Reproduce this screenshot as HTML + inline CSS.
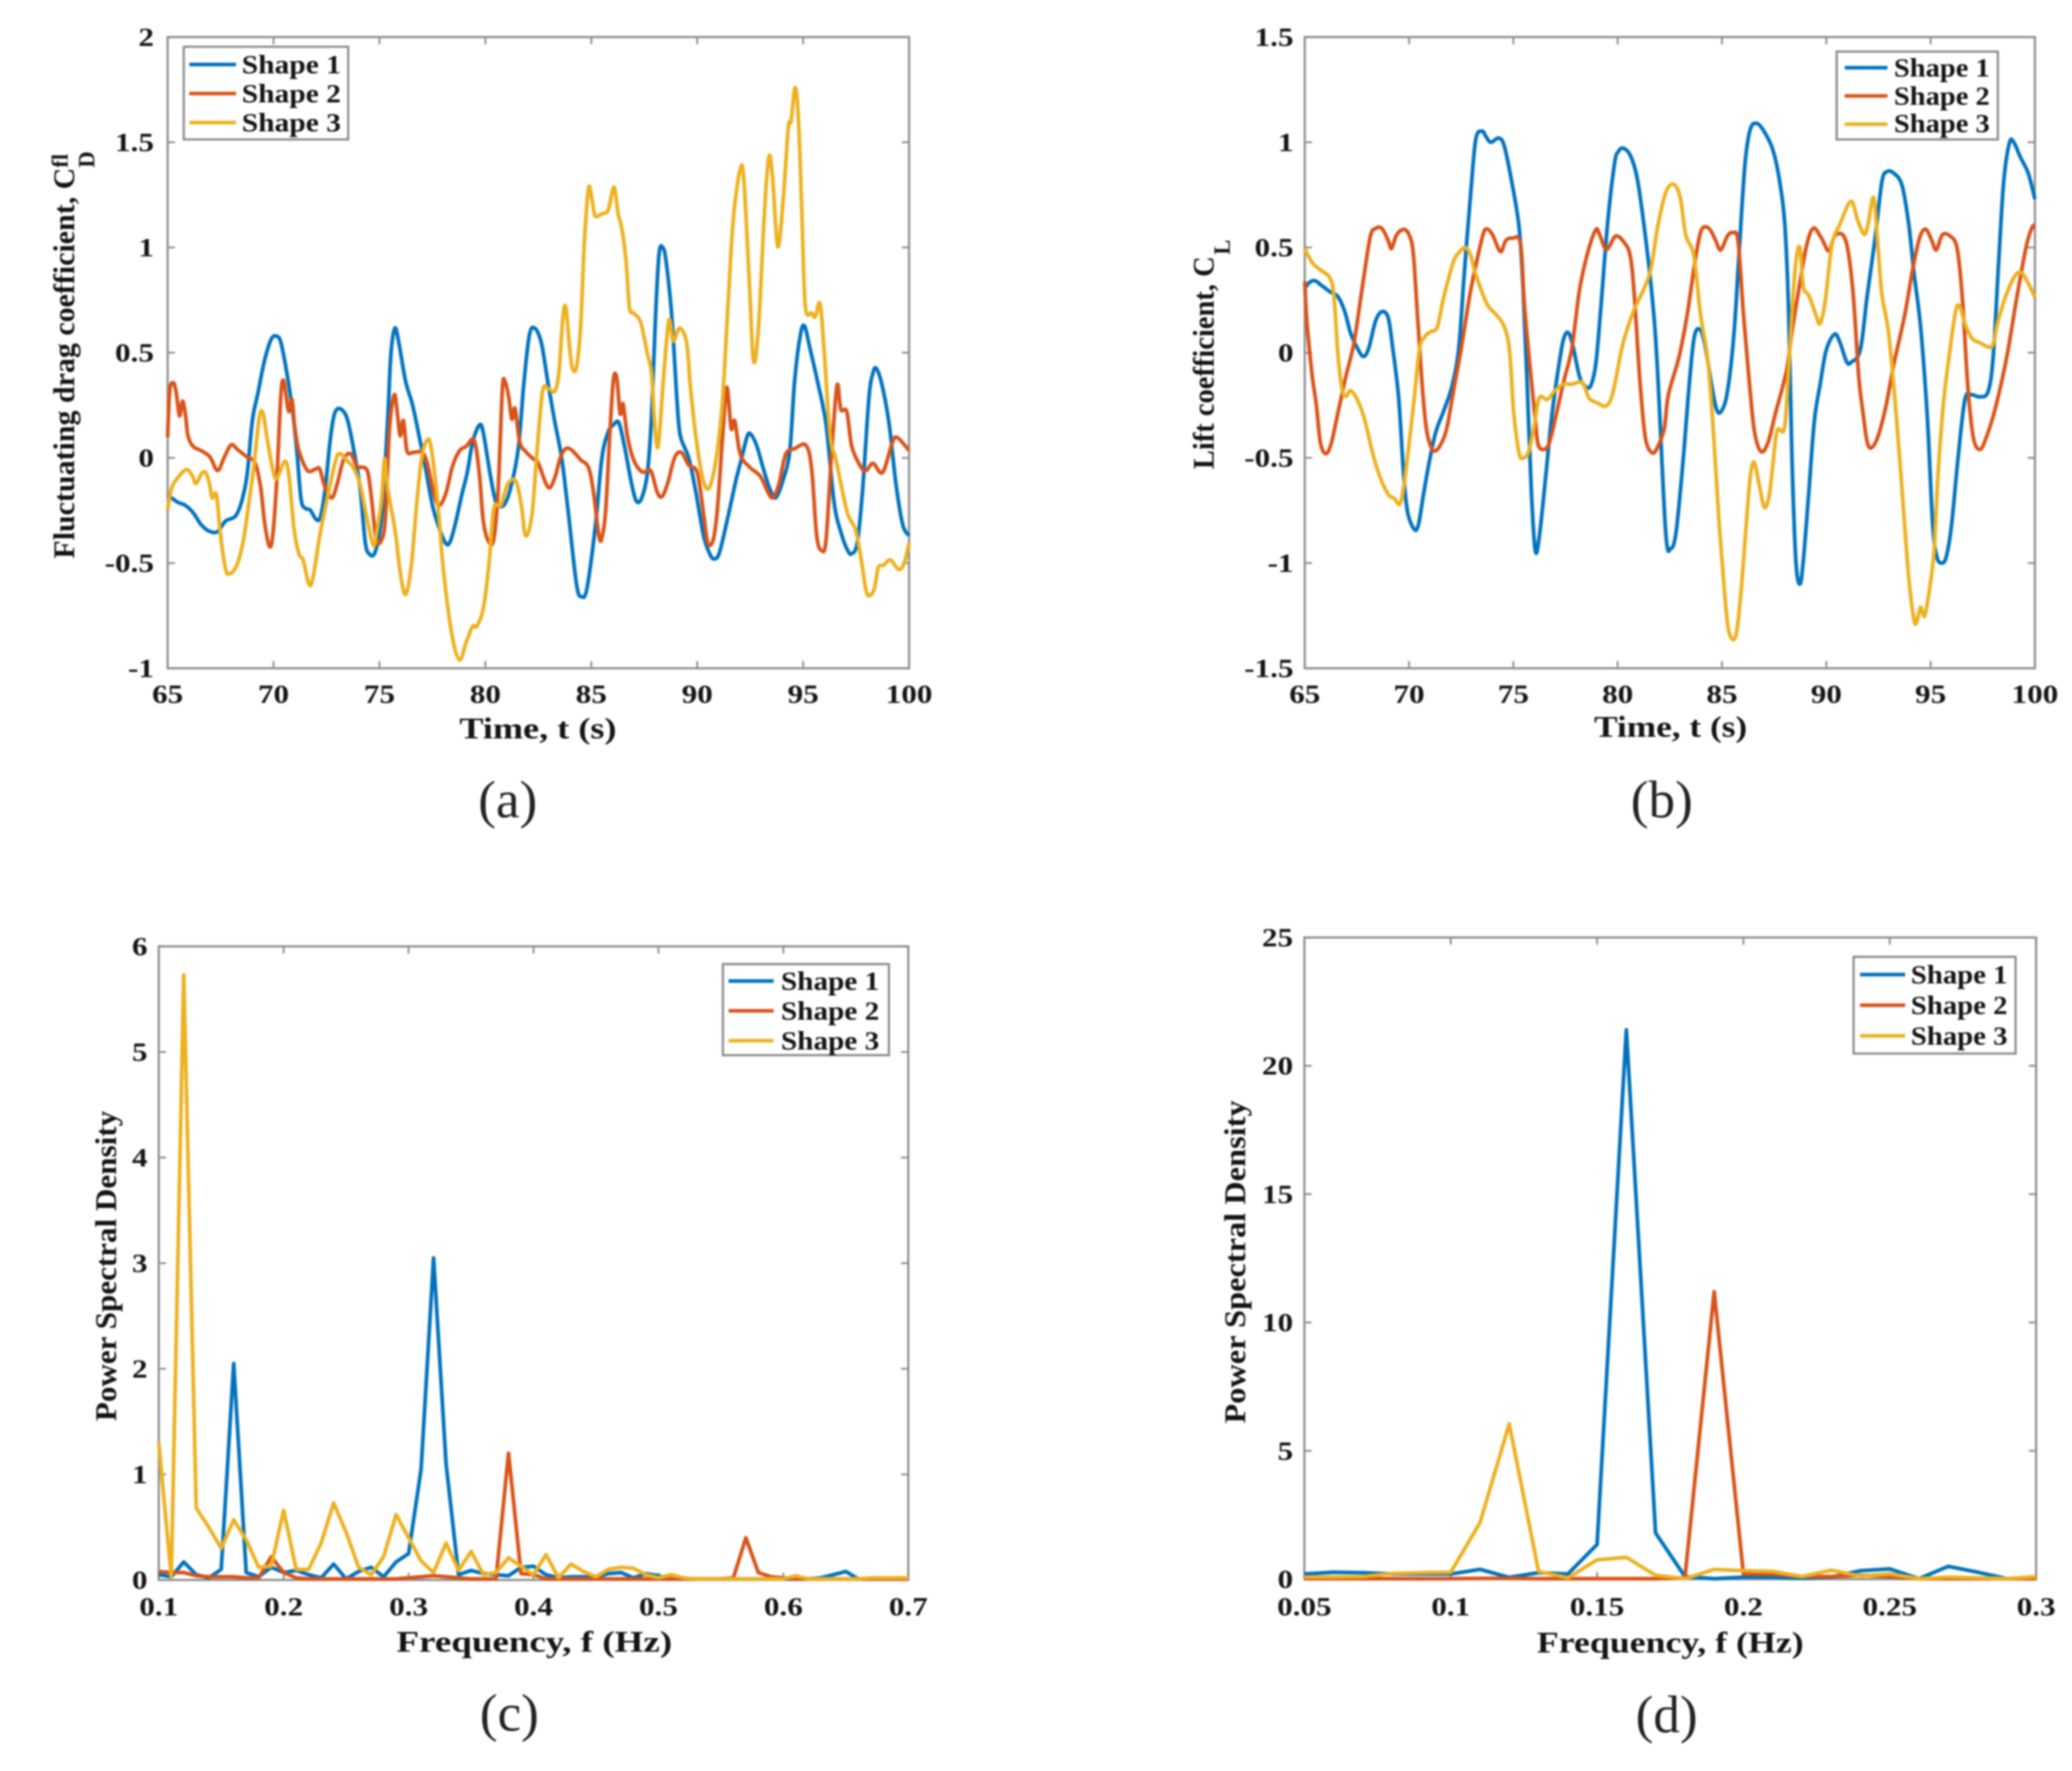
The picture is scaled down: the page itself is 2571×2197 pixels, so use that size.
<!DOCTYPE html>
<html lang="en">
<head>
<meta charset="utf-8">
<title>Shape comparison charts</title>
<style>
html,body{margin:0;padding:0;background:#fff;}
svg{display:block;filter:blur(1px);}
text{font-family:"Liberation Serif",serif;font-weight:bold;fill:#141414;}
.cap{font-weight:normal;font-size:66px;fill:#222;text-anchor:middle;}
.leg{font-size:33px;}
.ttl{font-size:37px;}
.frame{fill:none;stroke:#8a8a8a;stroke-width:2.6;}
.legbox{fill:#fff;stroke:#858585;stroke-width:2.6;}
.l1{stroke:#0072BD;stroke-width:4.6;fill:none;}
.l2{stroke:#D95319;stroke-width:4.6;fill:none;}
.l3{stroke:#EDB120;stroke-width:4.6;fill:none;}
</style>
</head>
<body>
<svg id="fig" width="2571" height="2197" viewBox="0 0 2571 2197" xmlns="http://www.w3.org/2000/svg">
<rect width="2571" height="2197" fill="#fff"/>

<g id="panel-a">
  <rect class="frame" x="208" y="46" width="920" height="783"/>
  <g id="marks-a"></g>
  <g>
    <rect class="legbox" x="228" y="58" width="204" height="115"/>
    <line class="l1" x1="235" x2="293" y1="80" y2="80"/>
    <text class="leg" x="300" y="91" textLength="123" lengthAdjust="spacingAndGlyphs">Shape 1</text>
    <line class="l2" x1="235" x2="293" y1="116" y2="116"/>
    <text class="leg" x="300" y="127" textLength="123" lengthAdjust="spacingAndGlyphs">Shape 2</text>
    <line class="l3" x1="235" x2="293" y1="152" y2="152"/>
    <text class="leg" x="300" y="163" textLength="123" lengthAdjust="spacingAndGlyphs">Shape 3</text>
  </g>
  <text class="ttl" x="570" y="916" textLength="195" lengthAdjust="spacingAndGlyphs">Time, t (s)</text>
  <text class="ttl" transform="translate(92,693) rotate(-90)" textLength="485" lengthAdjust="spacingAndGlyphs">Fluctuating drag coefficient, C</text>
  <text transform="translate(117,208) rotate(-90)" font-size="28">D</text>
  <text transform="translate(84,208) rotate(-90)" font-size="28">fl</text>
  <text class="cap" x="630" y="1014">(a)</text>
</g>

<g id="panel-b">
  <rect class="frame" x="1619" y="46" width="906" height="783"/>
  <g id="marks-b"></g>
  <g>
    <rect class="legbox" x="2279" y="64" width="200" height="109"/>
    <line class="l1" x1="2289" x2="2342" y1="84" y2="84"/>
    <text class="leg" x="2350" y="95" textLength="119" lengthAdjust="spacingAndGlyphs">Shape 1</text>
    <line class="l2" x1="2289" x2="2342" y1="119" y2="119"/>
    <text class="leg" x="2350" y="130" textLength="119" lengthAdjust="spacingAndGlyphs">Shape 2</text>
    <line class="l3" x1="2289" x2="2342" y1="154" y2="154"/>
    <text class="leg" x="2350" y="164" textLength="119" lengthAdjust="spacingAndGlyphs">Shape 3</text>
  </g>
  <text class="ttl" x="1978" y="914" textLength="190" lengthAdjust="spacingAndGlyphs">Time, t (s)</text>
  <text class="ttl" transform="translate(1506,582) rotate(-90)" textLength="264" lengthAdjust="spacingAndGlyphs">Lift coefficient, C</text>
  <text transform="translate(1526,316) rotate(-90)" font-size="28">L</text>
  <text class="cap" x="2062" y="1014">(b)</text>
</g>

<g id="panel-c">
  <rect class="frame" x="197" y="1174" width="930" height="786"/>
  <g id="marks-c"></g>
  <g>
    <rect class="legbox" x="897" y="1196" width="206" height="113"/>
    <line class="l1" x1="904" x2="960" y1="1217" y2="1217"/>
    <text class="leg" x="969" y="1228" textLength="122" lengthAdjust="spacingAndGlyphs">Shape 1</text>
    <line class="l2" x1="904" x2="960" y1="1254" y2="1254"/>
    <text class="leg" x="969" y="1265" textLength="122" lengthAdjust="spacingAndGlyphs">Shape 2</text>
    <line class="l3" x1="904" x2="960" y1="1291" y2="1291"/>
    <text class="leg" x="969" y="1302" textLength="122" lengthAdjust="spacingAndGlyphs">Shape 3</text>
  </g>
  <text class="ttl" x="492" y="2049" textLength="342" lengthAdjust="spacingAndGlyphs">Frequency, f (Hz)</text>
  <text class="ttl" transform="translate(144,1763) rotate(-90)" textLength="385" lengthAdjust="spacingAndGlyphs">Power Spectral Density</text>
  <text class="cap" x="632" y="2147">(c)</text>
</g>

<g id="panel-d">
  <rect class="frame" x="1618.5" y="1163" width="908" height="796"/>
  <g id="marks-d"></g>
  <g>
    <rect class="legbox" x="2300" y="1187" width="201" height="120"/>
    <line class="l1" x1="2308" x2="2364" y1="1209" y2="1209"/>
    <text class="leg" x="2371" y="1220" textLength="120" lengthAdjust="spacingAndGlyphs">Shape 1</text>
    <line class="l2" x1="2308" x2="2364" y1="1247" y2="1247"/>
    <text class="leg" x="2371" y="1258" textLength="120" lengthAdjust="spacingAndGlyphs">Shape 2</text>
    <line class="l3" x1="2308" x2="2364" y1="1285" y2="1285"/>
    <text class="leg" x="2371" y="1296" textLength="120" lengthAdjust="spacingAndGlyphs">Shape 3</text>
  </g>
  <text class="ttl" x="1907" y="2050" textLength="331" lengthAdjust="spacingAndGlyphs">Frequency, f (Hz)</text>
  <text class="ttl" transform="translate(1545,1766) rotate(-90)" textLength="401" lengthAdjust="spacingAndGlyphs">Power Spectral Density</text>
  <text class="cap" x="2068" y="2149">(d)</text>
</g>
</svg>

<script>
/* Panel (a): fluctuating drag coefficient */
var timeTicksA = ['65','70','75','80','85','90','95','100'];
var dragTicks = ['-1','-0.5','0','0.5','1','1.5','2'];
var dragTimeShape1 = [65,65.46,65.84,66.2,66.6,67,67.36,67.74,68.2,68.5,68.75,69,69.26,69.58,69.9,70.15,70.34,70.6,70.9,71.1,71.3,71.5,71.73,71.99,72.2,72.43,72.68,72.87,73.1,73.4,73.57,73.82,74.08,74.33,74.52,74.77,75.03,75.2,75.4,75.54,75.73,75.92,76.23,76.55,76.87,77.18,77.5,77.82,78.13,78.33,78.58,78.9,79.15,79.4,79.72,79.9,80.23,80.5,80.86,81.2,81.56,81.8,82.07,82.32,82.64,82.96,83.27,83.6,83.9,84.3,84.55,84.8,85.2,85.5,85.8,86.07,86.3,86.57,86.9,87.14,87.4,87.65,87.84,88.03,88.2,88.37,88.53,88.8,89.04,89.2,89.6,89.93,90.3,90.6,90.8,91.05,91.45,91.83,92.1,92.34,92.5,92.8,93.1,93.4,93.7,94.05,94.37,94.6,94.88,95.07,95.3,95.7,96.08,96.46,96.78,97.1,97.3,97.55,97.8,98.1,98.3,98.47,98.75,99.06,99.38,99.7,100];
var dragValueShape1 = [-0.176,-0.21,-0.226,-0.26,-0.32,-0.35,-0.35,-0.3,-0.277,-0.205,-0.08,0.177,0.307,0.465,0.566,0.578,0.55,0.42,0.22,0.033,-0.197,-0.24,-0.248,-0.29,-0.284,-0.154,0.09,0.206,0.235,0.206,0.148,0.02,-0.14,-0.4,-0.457,-0.454,-0.34,-0.154,0.206,0.494,0.617,0.545,0.365,0.256,0.105,-0.053,-0.226,-0.334,-0.406,-0.4,-0.313,-0.169,-0.068,0.076,0.156,0.12,-0.08,-0.21,-0.226,-0.14,0.05,0.336,0.58,0.617,0.547,0.353,0.176,0,-0.247,-0.6,-0.66,-0.617,-0.317,0,0.123,0.159,0.167,0.053,-0.123,-0.208,-0.185,-0.07,0.194,0.67,0.97,1,0.935,0.67,0.28,0.106,0,-0.16,-0.37,-0.458,-0.48,-0.45,-0.28,-0.106,0,0.097,0.115,0.06,-0.044,-0.14,-0.19,-0.106,0.035,0.37,0.59,0.626,0.53,0.353,0.16,-0.21,-0.353,-0.44,-0.455,-0.405,-0.16,0.28,0.405,0.423,0.335,0.16,-0.123,-0.317,-0.37];
var dragTimeShape2 = [65,65.1,65.27,65.4,65.56,65.7,65.84,65.96,66.2,66.6,67,67.36,67.68,68,68.3,68.75,69.13,69.39,69.58,69.8,69.96,70.15,70.34,70.46,70.6,70.72,70.87,71,71.2,71.6,71.99,72.18,72.43,72.75,73,73.3,73.63,73.95,74.4,74.6,74.84,75.1,75.28,75.47,75.7,75.85,75.98,76.13,76.3,76.6,77,77.25,77.57,77.82,78.13,78.45,78.77,79.1,79.47,79.72,79.9,80.16,80.4,80.6,80.8,80.92,81.1,81.25,81.4,81.62,81.94,82.32,82.5,82.96,83.27,83.53,83.8,84.1,84.5,84.86,85.1,85.36,85.5,85.68,85.87,86.04,86.2,86.36,86.5,86.7,87,87.4,87.8,88.1,88.33,88.6,88.93,89.25,89.6,90,90.3,90.5,90.75,90.95,91.2,91.4,91.6,91.77,92.03,92.47,92.98,93.4,93.6,93.86,94.18,94.6,95.13,95.4,95.64,95.87,96.08,96.34,96.6,96.78,97.06,97.3,97.73,97.98,98.3,98.75,99.2,99.44,100];
var dragValueShape2 = [0.098,0.32,0.357,0.314,0.2,0.27,0.206,0.105,0.055,0.033,0.004,-0.06,0.004,0.062,0.04,0.004,-0.024,-0.14,-0.31,-0.42,-0.37,-0.11,0.29,0.37,0.29,0.22,0.278,0.148,0.033,-0.06,-0.053,-0.053,-0.14,-0.19,-0.125,-0.01,0.02,-0.04,-0.056,-0.17,-0.385,-0.39,-0.284,0.134,0.3,0.206,0.105,0.177,0.033,0.026,0.026,-0.024,-0.17,-0.226,-0.17,-0.04,0.033,0.055,0.084,-0.08,-0.3,-0.4,-0.385,-0.154,0.32,0.365,0.29,0.184,0.235,0.076,0.026,-0.01,-0.026,-0.14,-0.097,0,0.044,0.035,-0.01,-0.044,-0.16,-0.37,-0.38,-0.247,0.106,0.37,0.38,0.21,0.256,0.106,-0.01,-0.067,-0.06,-0.16,-0.185,-0.123,0,0.026,-0.035,-0.07,-0.265,-0.405,-0.39,-0.247,0.106,0.335,0.14,0.176,0.018,-0.044,-0.088,-0.176,-0.185,-0.123,0.018,0.044,0.06,-0.053,-0.37,-0.44,-0.39,0.018,0.344,0.23,0.22,0.053,-0.044,-0.06,-0.026,-0.07,0.07,0.097,0.035];
var dragTimeShape3 = [65,65.2,65.58,65.9,66.15,66.34,66.6,66.8,66.98,67.1,67.3,67.5,67.74,67.93,68.25,68.56,68.82,69.07,69.32,69.5,69.7,70.02,70.2,70.53,70.72,70.97,71.2,71.4,71.67,71.86,72.18,72.56,72.94,73.13,73.44,73.76,74.08,74.4,74.7,74.84,75.1,75.24,75.4,75.73,75.98,76.23,76.5,76.75,77,77.25,77.44,77.76,78,78.4,78.77,79.1,79.4,79.6,79.9,80.16,80.4,80.73,81.05,81.43,81.7,81.9,82.2,82.44,82.7,82.96,83.27,83.47,83.66,83.8,83.97,84.1,84.3,84.5,84.67,84.87,85.05,85.18,85.5,85.8,86.07,86.26,86.45,86.64,86.8,87,87.33,87.65,87.84,87.97,88.15,88.4,88.66,88.87,89.17,89.5,89.68,89.93,90.2,90.44,90.67,90.95,91.2,91.45,91.7,92.02,92.2,92.47,92.66,92.9,93.17,93.38,93.55,93.8,94.05,94.3,94.43,94.62,94.78,94.94,95.1,95.4,95.57,95.8,96,96.27,96.53,96.78,97.1,97.48,97.73,97.98,98.17,98.37,98.55,98.8,99.12,99.5,99.76,100];
var dragValueShape3 = [-0.248,-0.14,-0.082,-0.056,-0.082,-0.122,-0.075,-0.07,-0.125,-0.19,-0.176,-0.37,-0.53,-0.55,-0.514,-0.4,-0.226,-0.04,0.19,0.213,0.09,-0.082,-0.09,-0.017,-0.08,-0.34,-0.457,-0.486,-0.6,-0.57,-0.37,-0.18,-0.01,0.02,-0.01,-0.046,-0.125,-0.284,-0.414,-0.37,-0.197,-0.003,-0.154,-0.34,-0.543,-0.65,-0.514,-0.226,0.004,0.084,0.048,-0.226,-0.514,-0.83,-0.96,-0.875,-0.8,-0.8,-0.716,-0.514,-0.24,-0.226,-0.125,-0.11,-0.226,-0.37,-0.27,0.035,0.317,0.33,0.317,0.405,0.67,0.714,0.53,0.427,0.432,0.635,1.02,1.284,1.217,1.15,1.16,1.178,1.287,1.164,1.085,0.935,0.714,0.688,0.644,0.494,0.405,0.194,0.053,0.37,0.653,0.555,0.617,0.547,0.335,0.106,-0.07,-0.146,-0.115,0.035,0.282,0.723,1.13,1.367,1.323,0.81,0.458,0.635,1.164,1.43,1.34,1.005,1.217,1.57,1.6,1.76,1.605,1.164,0.723,0.688,0.67,0.732,0.494,0.106,0,-0.123,-0.265,-0.344,-0.476,-0.635,-0.653,-0.617,-0.52,-0.51,-0.485,-0.53,-0.503,-0.405];

/* Panel (b): lift coefficient */
var timeTicksB = ['65','70','75','80','85','90','95','100'];
var liftTicks = ['-1.5','-1','-0.5','0','0.5','1','1.5'];
var liftTimeShape1 = [65,65.23,65.49,65.8,66.2,66.58,66.9,67.2,67.5,67.8,68.06,68.39,68.7,69,69.2,69.5,69.74,69.93,70.25,70.45,70.7,70.96,71.28,71.67,72.06,72.38,72.64,72.96,73.2,73.5,73.67,73.92,74.3,74.57,74.95,75.28,75.47,75.66,75.86,76.05,76.24,76.56,76.82,77.14,77.4,77.63,77.85,78.17,78.43,78.69,78.95,79.2,79.52,79.85,80.04,80.27,80.62,80.94,81.26,81.65,81.9,82.3,82.55,82.8,83.13,83.4,83.65,83.9,84.16,84.5,84.74,84.97,85.26,85.58,85.84,86.1,86.35,86.67,87.06,87.45,87.77,88.02,88.2,88.35,88.54,88.73,88.9,89.17,89.43,89.7,90,90.4,90.66,90.98,91.2,91.63,91.95,92.34,92.66,92.9,93.24,93.63,93.95,94.2,94.53,94.85,95.1,95.3,95.53,95.75,96,96.33,96.65,96.97,97.36,97.75,98,98.26,98.5,98.77,98.97,99.3,99.68,100];
var liftValueShape1 = [0.305,0.334,0.342,0.32,0.29,0.268,0.2,0.092,0.026,-0.018,0.019,0.15,0.195,0.166,0.034,-0.215,-0.58,-0.758,-0.84,-0.817,-0.67,-0.523,-0.377,-0.274,-0.157,0.019,0.37,0.767,1.016,1.053,1.03,1,1.02,0.98,0.796,0.59,0.298,-0.142,-0.655,-0.94,-0.875,-0.58,-0.318,-0.084,0.063,0.095,0.034,-0.113,-0.157,-0.16,-0.054,0.224,0.62,0.9,0.957,0.972,0.935,0.826,0.606,0.268,-0.07,-0.85,-0.93,-0.85,-0.52,-0.186,0.063,0.113,0.047,-0.153,-0.27,-0.278,-0.186,0.097,0.51,0.895,1.06,1.09,1.045,0.96,0.81,0.596,0.18,-0.486,-0.985,-1.1,-0.985,-0.65,-0.32,-0.153,0.013,0.088,0.047,-0.045,-0.045,0.013,0.263,0.546,0.81,0.86,0.853,0.795,0.612,0.38,0.113,-0.32,-0.82,-0.97,-1,-0.97,-0.82,-0.486,-0.22,-0.2,-0.21,-0.186,-0.02,0.43,0.81,0.995,1.003,0.93,0.853,0.73];
var liftTimeShape2 = [65,65.1,65.36,65.55,65.75,66,66.26,66.58,66.97,67.36,67.74,68.13,68.39,68.7,69,69.16,69.4,69.74,70,70.2,70.4,70.64,70.83,71.03,71.2,71.48,71.8,72.12,72.5,72.9,73.2,73.54,73.73,74,74.38,74.63,74.95,75.34,75.53,75.8,76.05,76.18,76.43,76.7,77,77.4,77.8,78.17,78.56,78.95,79.14,79.46,79.9,80.3,80.6,80.8,81.07,81.33,81.65,81.9,82.23,82.43,82.94,83.33,83.7,84,84.36,84.68,84.93,85.26,85.5,85.77,86.03,86.29,86.55,86.87,87.2,87.57,88.09,88.35,88.73,89.06,89.38,89.76,90.12,90.4,90.79,91.05,91.3,91.56,91.76,91.95,92.15,92.47,92.86,93.24,93.76,94.14,94.47,94.76,95.04,95.27,95.56,95.94,96.27,96.52,96.78,97.04,97.36,97.68,98.13,98.65,99.16,99.6,99.87,100];
var liftValueShape2 = [0.34,0.15,-0.113,-0.245,-0.428,-0.48,-0.435,-0.29,-0.113,0.048,0.298,0.547,0.59,0.59,0.532,0.495,0.56,0.586,0.56,0.474,0.18,-0.17,-0.362,-0.443,-0.468,-0.443,-0.362,-0.186,0.019,0.268,0.415,0.56,0.588,0.56,0.48,0.532,0.544,0.518,0.224,-0.07,-0.318,-0.435,-0.46,-0.435,-0.318,-0.142,0.019,0.298,0.474,0.584,0.56,0.49,0.554,0.525,0.46,0.268,-0.142,-0.406,-0.476,-0.45,-0.362,-0.2,-0.02,0.18,0.43,0.58,0.592,0.537,0.488,0.554,0.57,0.53,0.18,-0.12,-0.37,-0.47,-0.428,-0.286,-0.087,0.097,0.33,0.512,0.592,0.546,0.483,0.554,0.56,0.48,0.263,-0.12,-0.286,-0.42,-0.453,-0.4,-0.253,-0.053,0.18,0.396,0.546,0.587,0.537,0.488,0.56,0.554,0.496,0.263,-0.153,-0.4,-0.46,-0.4,-0.253,-0.02,0.28,0.512,0.596,0.604];
var liftTimeShape3 = [65,65.17,65.42,65.8,66.2,66.4,66.58,66.78,66.97,67.2,67.55,67.87,68.26,68.64,69.03,69.29,69.55,69.74,70,70.25,70.5,70.77,71.03,71.35,71.67,72.12,72.38,72.7,72.96,73.2,73.73,74.18,74.57,74.82,75.02,75.28,75.47,75.73,76,76.24,76.63,77,77.4,77.8,78.3,78.62,79,79.46,79.78,80.23,80.75,81.52,81.9,82.3,82.68,83,83.26,83.65,83.97,84.3,84.55,84.87,85.13,85.33,85.65,85.9,86.16,86.36,86.55,86.8,87.03,87.25,87.45,87.64,87.96,88.1,88.35,88.54,88.73,88.9,89.17,89.5,89.7,89.95,90.27,90.66,91.18,91.5,91.82,92,92.27,92.47,92.66,92.98,93.3,93.63,93.95,94.2,94.33,94.52,94.72,94.98,95.17,95.36,95.62,95.88,96.2,96.4,96.65,96.97,97.36,97.94,98.2,98.58,99.03,99.35,99.68,100];
var liftValueShape3 = [0.496,0.46,0.42,0.39,0.356,0.268,0.004,-0.17,-0.208,-0.18,-0.23,-0.318,-0.48,-0.6,-0.677,-0.692,-0.72,-0.64,-0.435,-0.215,0.019,0.078,0.1,0.122,0.268,0.43,0.474,0.5,0.46,0.37,0.232,0.18,0.122,0.004,-0.29,-0.48,-0.5,-0.47,-0.348,-0.215,-0.222,-0.18,-0.15,-0.15,-0.142,-0.215,-0.238,-0.252,-0.186,0.034,0.195,0.37,0.59,0.76,0.8,0.737,0.56,0.46,0.18,-0.02,-0.32,-0.82,-1.15,-1.326,-1.35,-1.15,-0.82,-0.586,-0.522,-0.636,-0.735,-0.686,-0.52,-0.37,-0.37,-0.236,0.18,0.43,0.5,0.313,0.27,0.18,0.138,0.246,0.512,0.612,0.72,0.63,0.562,0.612,0.737,0.512,0.28,0.097,-0.236,-0.652,-1.068,-1.268,-1.28,-1.21,-1.25,-1.1,-0.935,-0.57,-0.236,-0.02,0.196,0.22,0.138,0.07,0.047,0.03,0.138,0.263,0.363,0.38,0.33,0.263];

/* Panel (c): power spectral density, f = 0.10 ... 0.70 */
var freqTicksC = ['0.1','0.2','0.3','0.4','0.5','0.6','0.7'];
var psdTicksC = ['0','1','2','3','4','5','6'];
var freqC = [0.1,0.11,0.12,0.13,0.14,0.15,0.16,0.17,0.18,0.19,0.2,0.21,0.22,0.23,0.24,0.25,0.26,0.27,0.28,0.29,0.3,0.31,0.32,0.33,0.34,0.35,0.36,0.37,0.38,0.39,0.4,0.41,0.42,0.43,0.44,0.45,0.46,0.47,0.48,0.49,0.5,0.51,0.52,0.53,0.54,0.55,0.56,0.57,0.58,0.59,0.6,0.61,0.62,0.63,0.64,0.65,0.66,0.67,0.68,0.69,0.7];
var psdCShape1 = [0.05,0.03,0.17,0.05,0.02,0.1,2.05,0.07,0.03,0.12,0.07,0.09,0.05,0.02,0.15,0.01,0.08,0.12,0.03,0.17,0.25,1.05,3.05,1.1,0.05,0.09,0.06,0.05,0.04,0.12,0.13,0.05,0.02,0.03,0.03,0.03,0.06,0.07,0.02,0.06,0.04,0.01,0.01,0.01,0.01,0.01,0.01,0.01,0.01,0.01,0.01,0.01,0.01,0.02,0.05,0.08,0.01,0.01,0.01,0.01,0.01];
var psdCShape2 = [0.08,0.07,0.07,0.04,0.03,0.03,0.03,0.02,0.02,0.22,0.07,0.02,0.01,0.01,0.01,0.01,0.01,0.01,0.01,0.01,0.02,0.03,0.04,0.03,0.02,0.01,0.01,0.01,1.2,0.06,0.05,0.01,0.01,0.01,0.01,0.01,0.01,0.01,0.01,0.01,0.01,0.01,0.01,0.01,0.01,0.01,0.02,0.4,0.07,0.03,0.02,0.01,0.01,0.01,0.01,0.01,0.01,0.01,0.01,0.01,0.01];
var psdCShape3 = [1.3,0.03,5.73,0.68,0.5,0.3,0.57,0.38,0.12,0.13,0.66,0.1,0.1,0.35,0.73,0.45,0.12,0.05,0.22,0.62,0.4,0.18,0.07,0.35,0.09,0.27,0.05,0.07,0.21,0.13,0.05,0.24,0.02,0.15,0.08,0.03,0.1,0.12,0.11,0.05,0.02,0.05,0.02,0.01,0.01,0.01,0.01,0.01,0.01,0.01,0.01,0.04,0.01,0.01,0.01,0.01,0.01,0.02,0.02,0.02,0.02];

/* Panel (d): power spectral density, f = 0.05 ... 0.30 */
var freqTicksD = ['0.05','0.1','0.15','0.2','0.25','0.3'];
var psdTicksD = ['0','5','10','15','20','25'];
var freqD = [0.05,0.06,0.07,0.08,0.09,0.1,0.11,0.12,0.13,0.14,0.15,0.16,0.17,0.18,0.19,0.2,0.21,0.22,0.23,0.24,0.25,0.26,0.27,0.28,0.29,0.3];
var psdDShape1 = [0.2,0.27,0.25,0.2,0.2,0.2,0.38,0.07,0.25,0.2,1.35,21.4,1.8,0.1,0.02,0.08,0.08,0.03,0.08,0.33,0.4,0.02,0.5,0.27,0.02,0.05];
var psdDShape2 = [0.02,0.02,0.02,0.02,0.02,0.02,0.03,0.03,0.02,0.02,0.02,0.02,0.02,0.05,11.2,0.2,0.2,0.1,0.1,0.15,0.1,0.02,0.02,0.02,0.02,0.02];
var psdDShape3 = [0.08,0.08,0.1,0.22,0.25,0.27,2.2,6.05,0.3,0.05,0.75,0.85,0.15,0.02,0.38,0.33,0.3,0.1,0.35,0.12,0.2,0.02,0.08,0.05,0.02,0.1];

var SVGNS = 'http://www.w3.org/2000/svg';

function linearScale(d0, d1, r0, r1) {
  return function (v) { return r0 + (v - d0) / (d1 - d0) * (r1 - r0); };
}

function smoothPath(xs, ys, xScale, yScale) {
  var p = xs.map(function (x, i) { return [xScale(x), yScale(ys[i])]; });
  var d = 'M' + p[0][0].toFixed(1) + ' ' + p[0][1].toFixed(1);
  for (var i = 0; i < p.length - 1; i++) {
    var a = p[Math.max(i - 1, 0)], b = p[i], c = p[i + 1], e = p[Math.min(i + 2, p.length - 1)];
    var c1x = b[0] + (c[0] - a[0]) / 6, c1y = b[1] + (c[1] - a[1]) / 6;
    var c2x = c[0] - (e[0] - b[0]) / 6, c2y = c[1] - (e[1] - b[1]) / 6;
    d += 'C' + c1x.toFixed(1) + ' ' + c1y.toFixed(1) + ' ' + c2x.toFixed(1) + ' ' + c2y.toFixed(1) + ' ' + c[0].toFixed(1) + ' ' + c[1].toFixed(1);
  }
  return d;
}

function straightPath(xs, ys, xScale, yScale) {
  return xs.map(function (x, i) {
    return (i ? 'L' : 'M') + xScale(x).toFixed(1) + ' ' + yScale(ys[i]).toFixed(1);
  }).join('');
}

function drawSeries(group, d, cls, name) {
  var el = document.createElementNS(SVGNS, 'path');
  el.setAttribute('d', d);
  el.setAttribute('class', cls);
  el.setAttribute('stroke-linejoin', 'round');
  
  
  group.appendChild(el);
}

function drawTick(group, x1, y1, x2, y2, name) {
  var el = document.createElementNS(SVGNS, 'line');
  el.setAttribute('x1', x1); el.setAttribute('y1', y1);
  el.setAttribute('x2', x2); el.setAttribute('y2', y2);
  el.setAttribute('stroke', '#8a8a8a');
  el.setAttribute('stroke-width', '2.2');
  
  
  group.appendChild(el);
}

function drawLabel(group, x, y, label, anchor, name) {
  var el = document.createElementNS(SVGNS, 'text');
  el.setAttribute('transform', 'translate(' + x + ',' + y + ') scale(1.17,1)');
  el.setAttribute('text-anchor', anchor);
  el.setAttribute('font-size', '33');
  el.textContent = label;
  
  
  group.appendChild(el);
}

function drawAxes(group, xTicks, yTicks, xs, ys, box, tickY, labelGap) {
  xTicks.forEach(function (t) {
    var x = xs(Number(t));
    drawTick(group, x, box.b, x, box.b - 9, 'x-tick');
    drawTick(group, x, box.t, x, box.t + 9, 'x-tick-top');
    drawLabel(group, x, tickY, t, 'middle', 'x-tick-label');
  });
  yTicks.forEach(function (t) {
    var y = ys(Number(t));
    drawTick(group, box.l, y, box.l + 9, y, 'y-tick');
    drawTick(group, box.r, y, box.r - 9, y, 'y-tick-right');
    drawLabel(group, box.l - labelGap, y + 11, t, 'end', 'y-tick-label');
  });
}

var boxA = {l: 208, r: 1128, t: 46, b: 829};
var xA = linearScale(65, 100, boxA.l, boxA.r), yA = linearScale(-1, 2, boxA.b, boxA.t);
var gA = document.getElementById('marks-a');
drawAxes(gA, timeTicksA, dragTicks, xA, yA, boxA, 872, 17);
drawSeries(gA, smoothPath(dragTimeShape1, dragValueShape1, xA, yA), 'l1', 'line-shape-1');
drawSeries(gA, smoothPath(dragTimeShape2, dragValueShape2, xA, yA), 'l2', 'line-shape-2');
drawSeries(gA, smoothPath(dragTimeShape3, dragValueShape3, xA, yA), 'l3', 'line-shape-3');

var boxB = {l: 1619, r: 2525, t: 46, b: 829};
var xB = linearScale(65, 100, boxB.l, boxB.r), yB = linearScale(-1.5, 1.5, boxB.b, boxB.t);
var gB = document.getElementById('marks-b');
drawAxes(gB, timeTicksB, liftTicks, xB, yB, boxB, 872, 14);
drawSeries(gB, smoothPath(liftTimeShape1, liftValueShape1, xB, yB), 'l1', 'line-shape-1');
drawSeries(gB, smoothPath(liftTimeShape2, liftValueShape2, xB, yB), 'l2', 'line-shape-2');
drawSeries(gB, smoothPath(liftTimeShape3, liftValueShape3, xB, yB), 'l3', 'line-shape-3');

var boxC = {l: 197, r: 1127, t: 1174, b: 1960};
var xC = linearScale(0.1, 0.7, boxC.l, boxC.r), yC = linearScale(0, 6, boxC.b, boxC.t);
var gC = document.getElementById('marks-c');
drawAxes(gC, freqTicksC, psdTicksC, xC, yC, boxC, 2004, 14);
drawSeries(gC, straightPath(freqC, psdCShape1, xC, yC), 'l1', 'line-shape-1');
drawSeries(gC, straightPath(freqC, psdCShape2, xC, yC), 'l2', 'line-shape-2');
drawSeries(gC, straightPath(freqC, psdCShape3, xC, yC), 'l3', 'line-shape-3');

var boxD = {l: 1618.5, r: 2526.5, t: 1163, b: 1959};
var xD = linearScale(0.05, 0.3, boxD.l, boxD.r), yD = linearScale(0, 25, boxD.b, boxD.t);
var gD = document.getElementById('marks-d');
drawAxes(gD, freqTicksD, psdTicksD, xD, yD, boxD, 2004, 14);
drawSeries(gD, straightPath(freqD, psdDShape1, xD, yD), 'l1', 'line-shape-1');
drawSeries(gD, straightPath(freqD, psdDShape2, xD, yD), 'l2', 'line-shape-2');
drawSeries(gD, straightPath(freqD, psdDShape3, xD, yD), 'l3', 'line-shape-3');
</script>
</body>
</html>
